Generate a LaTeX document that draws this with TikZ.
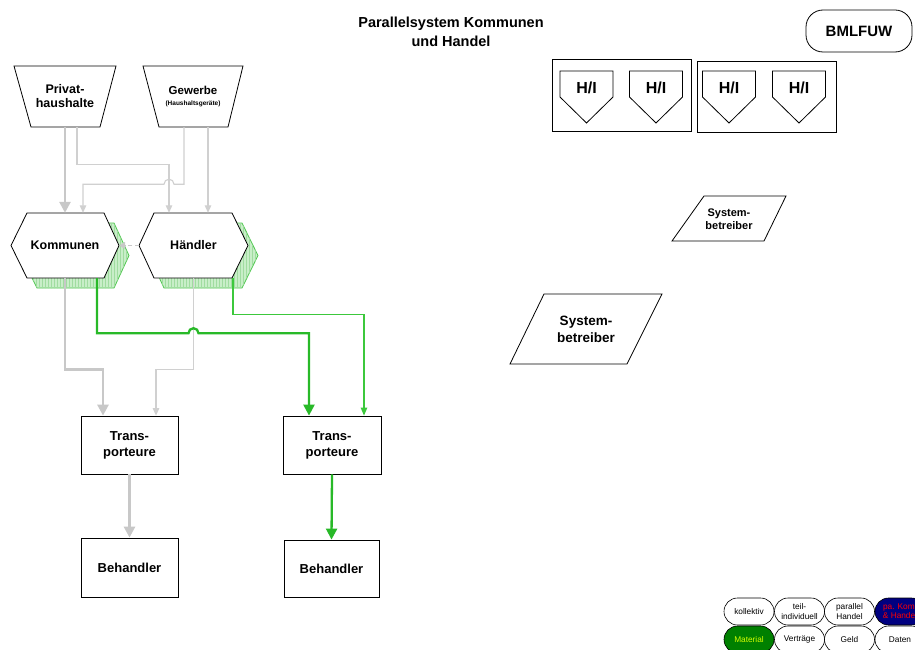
\documentclass[tikz,border=0pt]{standalone}
\usepackage{fontspec}
\setmainfont{Liberation Sans}
\usetikzlibrary{arrows.meta,patterns}
\pgfdeclarelayer{shadowlayer}
\pgfdeclarelayer{filllayer}
\pgfsetlayers{shadowlayer,filllayer,main}
\definecolor{lgray}{RGB}{200,200,200}
\definecolor{tgray}{RGB}{208,208,208}
\definecolor{gthick}{RGB}{40,185,40}
\definecolor{gthin}{RGB}{60,200,60}
\definecolor{shfill}{RGB}{200,238,200}
\definecolor{shhatch}{RGB}{160,220,160}
\definecolor{shdraw}{RGB}{80,200,80}
\definecolor{navyblue}{RGB}{0,0,128}
\definecolor{matgreen}{RGB}{0,128,0}
\definecolor{matyellow}{RGB}{210,255,0}
\begin{document}
\begin{tikzpicture}[x=1pt,y=-1pt,
  holder/.style={rectangle, inner sep=0pt, align=center},
  outl/.style={draw=black, line width=0.8pt, fill=white},
  shad/.style={draw=shdraw, line width=0.8pt, fill=shfill, postaction={pattern=vertical lines, pattern color=shhatch}},
  box/.style={draw=black, line width=0.8pt, fill=white, inner sep=0pt, align=center, font=\bfseries\fontsize{13}{16}\selectfont},
  pill/.style={draw=black, line width=0.6pt, rounded corners=13.5pt, minimum width=50pt, minimum height=27pt, inner sep=0pt, align=center, font=\fontsize{8.3}{9.3}\selectfont},
  thickgray/.style={draw=lgray, line width=2.6pt, -{Triangle[width=11pt,length=11pt]}},
  thingray/.style={draw=tgray, line width=1.1pt, -{Triangle[width=6.5pt,length=7.5pt]}},
  thickgreen/.style={draw=gthick, line width=2.3pt, -{Triangle[width=11pt,length=11pt]}},
  thingreen/.style={draw=gthin, line width=1.1pt, -{Triangle[width=6.5pt,length=8pt]}},
  dashgray/.style={draw=lgray, line width=1.4pt, dash pattern=on 4pt off 2.5pt, -{Triangle[width=7pt,length=6pt]}}
]
\useasboundingbox (0,0) rectangle (915,650);
\begin{pgfonlayer}{shadowlayer}
\fill[white] (0,0) rectangle (915,650);
\end{pgfonlayer}
\clip (0,0) rectangle (915,650);

% title and logo
\node[holder, font=\bfseries\fontsize{14.5}{19}\selectfont] (title) at (451,32) {Parallelsystem Kommunen\\und Handel};
\node[draw, line width=0.8pt, rounded corners=17pt, minimum width=106pt, minimum height=42pt, inner sep=0pt, font=\bfseries\fontsize{15}{18}\selectfont] (bml) at (859,31) {BMLFUW};

% H/I groups
\node[draw, line width=0.8pt, minimum width=139pt, minimum height=72pt, inner sep=0pt] (g1) at (621.5,95) {};
\node[draw, line width=0.8pt, minimum width=139pt, minimum height=71pt, inner sep=0pt] (g2) at (766.5,96.5) {};
\foreach \n/\x in {p1/586.5, p2/656, p3/729, p4/799}{
  \node[holder, font=\bfseries\fontsize{16}{18}\selectfont] (\n) at (\x,88) {H/I};
  \draw[line width=0.8pt] ([shift={(-26.5,-17)}]\n.center) -- ([shift={(26.5,-17)}]\n.center) -- ([shift={(26.5,9)}]\n.center) -- ([shift={(0,35)}]\n.center) -- ([shift={(-26.5,9)}]\n.center) -- cycle;
}

% Systembetreiber
\node[holder, font=\bfseries\fontsize{11}{13}\selectfont] (sb1) at (729,219) {System-\\betreiber};
\draw[line width=0.8pt] ([shift={(-25,-23)}]sb1.center) -- ([shift={(57,-23)}]sb1.center) -- ([shift={(35,22)}]sb1.center) -- ([shift={(-57,22)}]sb1.center) -- cycle;
\node[holder, font=\bfseries\fontsize{13.5}{17}\selectfont] (sb2) at (586,329) {System-\\betreiber};
\draw[line width=0.8pt] ([shift={(-42,-35)}]sb2.center) -- ([shift={(76,-35)}]sb2.center) -- ([shift={(41,35)}]sb2.center) -- ([shift={(-76,35)}]sb2.center) -- cycle;

% sources
\node[holder, minimum width=102pt, minimum height=61pt, font=\bfseries\fontsize{12.5}{14}\selectfont] (ph) at (65,96.5) {Privat-\\haushalte};
\node[holder, minimum width=100pt, minimum height=61pt] (gw) at (193,96.5) {{\bfseries\fontsize{11.5}{12}\selectfont Gewerbe}\\[-1pt]{\bfseries\fontsize{6.5}{7}\selectfont (Haushaltsgeräte)}};
\begin{pgfonlayer}{filllayer}
\draw[outl] ([shift={(-51,-30.5)}]ph.center) -- ([shift={(51,-30.5)}]ph.center) -- ([shift={(35,30.5)}]ph.center) -- ([shift={(-34,30.5)}]ph.center) -- cycle;
\draw[outl] ([shift={(-50,-30.5)}]gw.center) -- ([shift={(50,-30.5)}]gw.center) -- ([shift={(35,30.5)}]gw.center) -- ([shift={(-34,30.5)}]gw.center) -- cycle;
\end{pgfonlayer}

% Kommunen and Haendler
\node[holder, minimum width=108pt, minimum height=65pt, font=\bfseries\fontsize{12.5}{14}\selectfont] (kom) at (65,245.5) {Kommunen};
\node[holder, minimum width=109pt, minimum height=65pt, font=\bfseries\fontsize{12.5}{14}\selectfont] (hd) at (193.5,245.5) {Händler};
\begin{pgfonlayer}{shadowlayer}
\draw[shad] ([shift={(-44,10)}]kom.center) -- ([shift={(-28,-22.5)}]kom.center) -- ([shift={(49,-22.5)}]kom.center) -- ([shift={(64,10)}]kom.center) -- ([shift={(49,42.5)}]kom.center) -- ([shift={(-28,42.5)}]kom.center) -- cycle;
\draw[shad] ([shift={(-44.5,10)}]hd.center) -- ([shift={(-29.5,-22.5)}]hd.center) -- ([shift={(48.5,-22.5)}]hd.center) -- ([shift={(64.5,10)}]hd.center) -- ([shift={(48.5,42.5)}]hd.center) -- ([shift={(-29.5,42.5)}]hd.center) -- cycle;
\end{pgfonlayer}
\begin{pgfonlayer}{filllayer}
\draw[outl] ([shift={(-54,0)}]kom.center) -- ([shift={(-38,-32.5)}]kom.center) -- ([shift={(39,-32.5)}]kom.center) -- ([shift={(54,0)}]kom.center) -- ([shift={(39,32.5)}]kom.center) -- ([shift={(-38,32.5)}]kom.center) -- cycle;
\draw[outl] ([shift={(-54.5,0)}]hd.center) -- ([shift={(-39.5,-32.5)}]hd.center) -- ([shift={(38.5,-32.5)}]hd.center) -- ([shift={(54.5,0)}]hd.center) -- ([shift={(38.5,32.5)}]hd.center) -- ([shift={(-39.5,32.5)}]hd.center) -- cycle;
\end{pgfonlayer}

% transport and treatment
\node[box, minimum width=97pt, minimum height=58pt] (t1) at (129.5,445) {Trans-\\porteure};
\node[box, minimum width=98pt, minimum height=58pt] (t2) at (332,445) {Trans-\\porteure};
\node[box, minimum width=97pt, minimum height=59pt] (b1) at (129.5,567.5) {Behandler};
\node[box, minimum width=95pt, minimum height=57pt] (b2) at (331.5,568.5) {Behandler};

% connectors top
\draw[thickgray] (ph.south) -- (kom.north);
\draw[thingray] ([xshift=12pt]ph.south) -- ++(0,37) -| ([xshift=-24.5pt]hd.north);
\draw[thingray] ([xshift=-9pt]gw.south) -- ++(0,57) -- ++(-10,0) arc[start angle=0, end angle=180, radius=5pt] -| ([xshift=18pt]kom.north);
\draw[thingray] ([xshift=15pt]gw.south) -- ([xshift=14.5pt]hd.north);
\draw[dashgray] (hd.west) -- (kom.east);

% connectors bottom
\draw[thickgray] (kom.south) -- ++(0,91) -| ([xshift=-26.5pt]t1.north);
\draw[thingray] (hd.south) -- ++(0,91) -| ([xshift=26.5pt]t1.north);
\draw[thickgreen] ([xshift=32pt]kom.south) -- ++(0,55) -- ++(91.5,0) arc[start angle=180, end angle=0, radius=5pt] -| ([xshift=-23pt]t2.north);
\draw[thingreen] ([xshift=39.5pt]hd.south) -- ++(0,36) -| ([xshift=32pt]t2.north);
\draw[thickgray] (t1.south) -- (b1.north);
\draw[thickgreen] (t2.south) -- (b2.north);

% legend
\node[pill] (l1) at (749,611.5) {kollektiv};
\node[pill] (l2) at (799.5,611.5) {teil-\\individuell};
\node[pill] (l3) at (849.5,611.5) {parallel\\Handel};
\node[pill, fill=navyblue, text=red] (l4) at (900,611.5) {pa. Kom.\\\& Handel};
\node[pill, fill=matgreen, text=matyellow] (l5) at (749,639.5) {Material};
\node[pill] (l6) at (799.5,639.5) {Verträge};
\node[pill] (l7) at (849.5,639.5) {Geld};
\node[pill] (l8) at (900,639.5) {Daten};
\end{tikzpicture}
\end{document}
